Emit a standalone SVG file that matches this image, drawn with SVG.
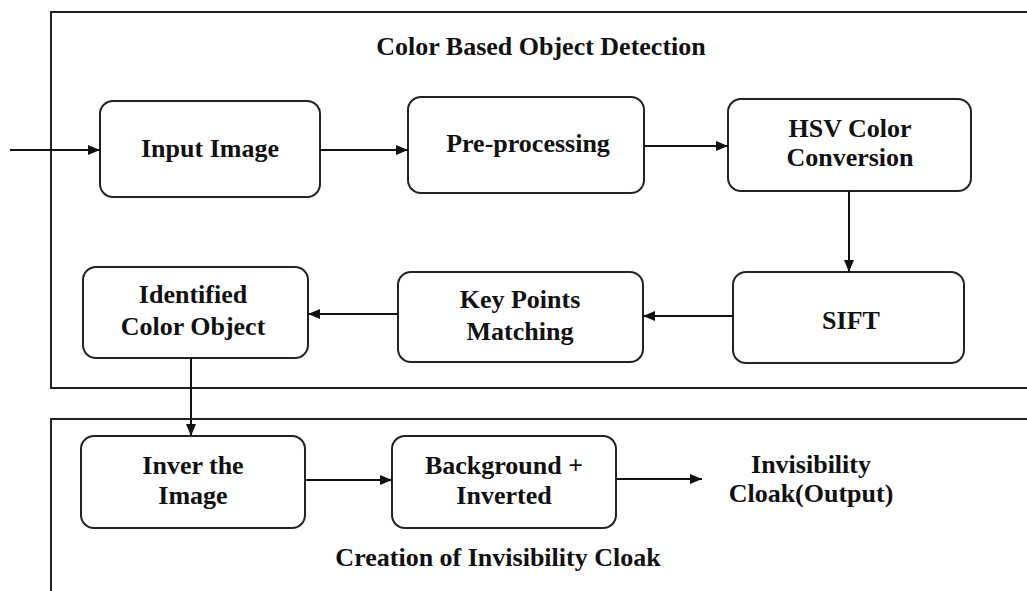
<svg xmlns="http://www.w3.org/2000/svg" width="1027" height="591" viewBox="0 0 1027 591">
<style>
.frame{fill:none;stroke:#222;stroke-width:2}
.box{fill:#fff;stroke:#222;stroke-width:2}
.t{fill:#111;text-anchor:middle}
.c{fill:none;stroke:#111;stroke-width:2}
</style>
<defs>
<marker id="ah" markerWidth="12" markerHeight="10" refX="12" refY="5" orient="auto" markerUnits="userSpaceOnUse">
<path d="M0,0 L12,5 L0,10 Z" fill="#111"/>
</marker>
</defs>
<g font-family="Liberation Serif, serif" font-weight="bold" font-size="26">
<g id="frame-detection">
<path class="frame" d="M1030,12 H51 V388 H1030"/>
<text class="t" x="541" y="55">Color Based Object Detection</text>
</g>
<g id="frame-cloak">
<path class="frame" d="M1030,419 H51 V595"/>
<text class="t" x="498" y="566">Creation of Invisibility Cloak</text>
</g>
<g id="input-image">
<rect class="box" x="100" y="101" width="220" height="96" rx="13"/>
<text class="t" x="210" y="157">Input Image</text>
</g>
<g id="pre-processing">
<rect class="box" x="408" y="97" width="236" height="96" rx="13"/>
<text class="t" x="528" y="152">Pre-processing</text>
</g>
<g id="hsv">
<rect class="box" x="728" y="99" width="243" height="92" rx="13"/>
<text class="t" x="850" y="137">HSV Color</text>
<text class="t" x="850" y="166">Conversion</text>
</g>
<g id="sift">
<rect class="box" x="733" y="272" width="231" height="91" rx="13"/>
<text class="t" x="851" y="329">SIFT</text>
</g>
<g id="key-points">
<rect class="box" x="398" y="272" width="245" height="90" rx="13"/>
<text class="t" x="520" y="308">Key Points</text>
<text class="t" x="520" y="340">Matching</text>
</g>
<g id="identified">
<rect class="box" x="83" y="267" width="225" height="91" rx="13"/>
<text class="t" x="193" y="303">Identified</text>
<text class="t" x="193" y="335">Color Object</text>
</g>
<g id="inver">
<rect class="box" x="81" y="436" width="224" height="92" rx="13"/>
<text class="t" x="193" y="474">Inver the</text>
<text class="t" x="193" y="504">Image</text>
</g>
<g id="background">
<rect class="box" x="392" y="436" width="224" height="92" rx="13"/>
<text class="t" x="504" y="474">Background +</text>
<text class="t" x="504" y="504">Inverted</text>
</g>
<g id="output">
<text class="t" x="811" y="473">Invisibility</text>
<text class="t" x="811" y="502">Cloak(Output)</text>
</g>
</g>
<g id="connectors">
<line class="c" x1="10" y1="150" x2="100" y2="150" marker-end="url(#ah)"/>
<line class="c" x1="320" y1="150" x2="408" y2="150" marker-end="url(#ah)"/>
<line class="c" x1="644" y1="146" x2="728" y2="146" marker-end="url(#ah)"/>
<line class="c" x1="849" y1="191" x2="849" y2="272" marker-end="url(#ah)"/>
<line class="c" x1="733" y1="316" x2="643" y2="316" marker-end="url(#ah)"/>
<line class="c" x1="398" y1="314" x2="308" y2="314" marker-end="url(#ah)"/>
<line class="c" x1="191" y1="358" x2="191" y2="436" marker-end="url(#ah)"/>
<line class="c" x1="305" y1="480" x2="392" y2="480" marker-end="url(#ah)"/>
<line class="c" x1="616" y1="479" x2="702" y2="479" marker-end="url(#ah)"/>
</g>
</svg>
